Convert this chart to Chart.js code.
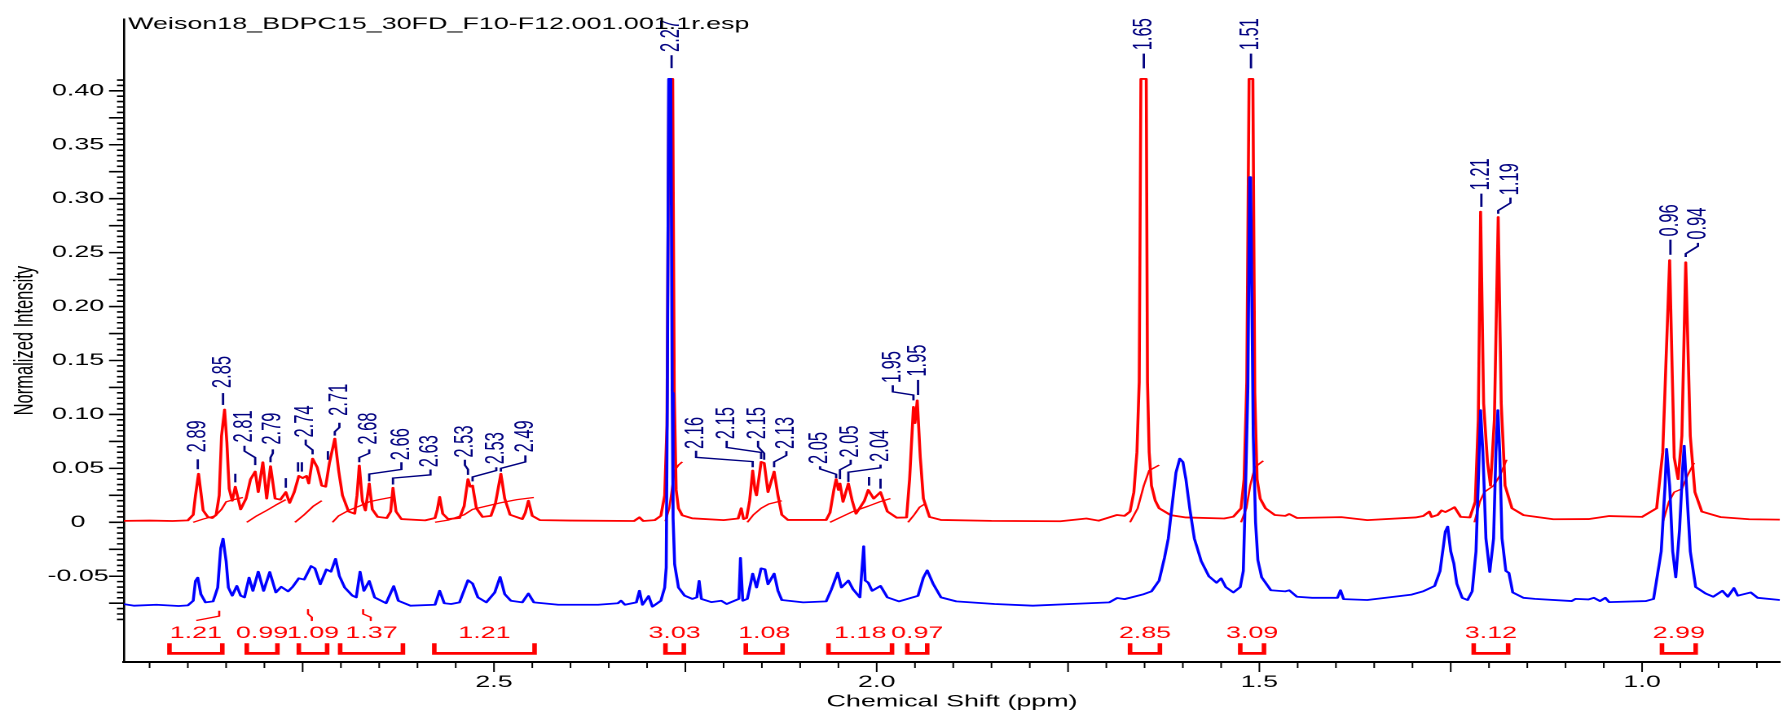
<!DOCTYPE html>
<html>
<head>
<meta charset="utf-8">
<script src="https://cdn.jsdelivr.net/npm/chart.js@4.4.1/dist/chart.umd.min.js"></script>
<style>
    html, body { margin: 0; padding: 0; background: #fff; overflow: hidden; }
    #wrap { width: 1783px; height: 716px; overflow: hidden; }
    /* spectrum is laid out narrow and stretched sideways, like the exported plot */
    #spectrum { display: block; transform: scaleX(1.62980); transform-origin: 0 0; }
</style>
</head>
<body>
<div id="wrap"><canvas id="spectrum" width="1094" height="716"></canvas></div>
<script>
const FONT = '"Liberation Sans", Arial, sans-serif';
const RED = '#ff0000';
const BLUE = '#0000ff';
const NAVY = '#000080';
const FILE_NAME = 'Weison18_BDPC15_30FD_F10-F12.001.001.1r.esp';

// axis labels
const ppmTicks = [2.5, 2.0, 1.5, 1.0];
const intensityTicks = [-0.05, 0, 0.05, 0.10, 0.15, 0.20, 0.25, 0.30, 0.35, 0.40];

// red trace [ppm, normalized intensity]
const redTrace = [
    [2.985, 0.0013], [2.950, 0.0016], [2.920, 0.0012], [2.900, 0.0018], [2.893, 0.007], [2.890, 0.025],
    [2.886, 0.045], [2.883, 0.028], [2.880, 0.011], [2.874, 0.005], [2.868, 0.004], [2.863, 0.007],
    [2.859, 0.025], [2.856, 0.080], [2.852, 0.1045], [2.849, 0.074], [2.846, 0.031], [2.842, 0.020],
    [2.838, 0.033], [2.831, 0.012], [2.824, 0.022], [2.818, 0.040], [2.812, 0.047], [2.808, 0.028],
    [2.802, 0.0557], [2.797, 0.022], [2.792, 0.052], [2.786, 0.022], [2.779, 0.021], [2.772, 0.028],
    [2.767, 0.018], [2.761, 0.028], [2.755, 0.043], [2.750, 0.041], [2.745, 0.043], [2.742, 0.036],
    [2.737, 0.059], [2.731, 0.051], [2.725, 0.034], [2.720, 0.033], [2.715, 0.055], [2.708, 0.0776],
    [2.703, 0.048], [2.698, 0.025], [2.690, 0.010], [2.682, 0.008], [2.679, 0.025], [2.676, 0.0526],
    [2.672, 0.020], [2.668, 0.011], [2.663, 0.036], [2.659, 0.012], [2.652, 0.005], [2.640, 0.004],
    [2.635, 0.010], [2.632, 0.032], [2.628, 0.010], [2.621, 0.003], [2.590, 0.0018], [2.577, 0.004],
    [2.574, 0.012], [2.571, 0.0235], [2.567, 0.008], [2.560, 0.003], [2.545, 0.004], [2.539, 0.015],
    [2.534, 0.040], [2.531, 0.033], [2.528, 0.034], [2.523, 0.013], [2.515, 0.005], [2.504, 0.006],
    [2.498, 0.018], [2.491, 0.045], [2.486, 0.022], [2.479, 0.007], [2.463, 0.003], [2.459, 0.009],
    [2.455, 0.020], [2.450, 0.006], [2.440, 0.002], [2.400, 0.0016], [2.317, 0.0012], [2.310, 0.0046],
    [2.305, 0.0012], [2.290, 0.002], [2.282, 0.006], [2.277, 0.025], [2.274, 0.090], [2.2715, 0.411],
    [2.2665, 0.411], [2.2645, 0.120], [2.262, 0.030], [2.259, 0.013], [2.254, 0.0065], [2.241, 0.0037],
    [2.200, 0.002], [2.181, 0.0035], [2.177, 0.013], [2.174, 0.003], [2.170, 0.004], [2.166, 0.020],
    [2.162, 0.048], [2.159, 0.030], [2.157, 0.025], [2.151, 0.056], [2.147, 0.055], [2.142, 0.028],
    [2.134, 0.047], [2.129, 0.025], [2.124, 0.007], [2.116, 0.0022], [2.066, 0.0022], [2.061, 0.009],
    [2.056, 0.030], [2.053, 0.040], [2.050, 0.030], [2.048, 0.036], [2.044, 0.019], [2.037, 0.036],
    [2.032, 0.020], [2.027, 0.008], [2.016, 0.020], [2.011, 0.030], [2.004, 0.022], [1.995, 0.028],
    [1.986, 0.010], [1.974, 0.0043], [1.961, 0.0045], [1.957, 0.040], [1.952, 0.107], [1.950, 0.092],
    [1.947, 0.113], [1.943, 0.060], [1.939, 0.022], [1.931, 0.005], [1.916, 0.0022], [1.850, 0.0013],
    [1.760, 0.0010], [1.726, 0.0035], [1.710, 0.0015], [1.686, 0.0068], [1.676, 0.006], [1.669, 0.010],
    [1.664, 0.028], [1.660, 0.065], [1.657, 0.130], [1.6548, 0.411], [1.6478, 0.411], [1.6462, 0.130],
    [1.644, 0.065], [1.641, 0.034], [1.636, 0.020], [1.631, 0.013], [1.616, 0.0067], [1.596, 0.0045],
    [1.546, 0.0035], [1.534, 0.0052], [1.524, 0.013], [1.520, 0.040], [1.5165, 0.130], [1.5135, 0.411],
    [1.5085, 0.411], [1.5060, 0.120], [1.503, 0.040], [1.499, 0.022], [1.492, 0.013],
    [1.480, 0.0068], [1.466, 0.006], [1.461, 0.0077], [1.451, 0.004], [1.393, 0.0048], [1.359, 0.002],
    [1.296, 0.0045], [1.286, 0.0058], [1.278, 0.010], [1.275, 0.005], [1.267, 0.0068], [1.262, 0.011],
    [1.257, 0.0095], [1.250, 0.012], [1.245, 0.014], [1.237, 0.005], [1.225, 0.0045], [1.218, 0.019],
    [1.214, 0.095], [1.211, 0.288], [1.207, 0.110], [1.202, 0.056], [1.198, 0.034], [1.193, 0.095],
    [1.188, 0.283], [1.184, 0.110], [1.179, 0.034], [1.170, 0.013], [1.155, 0.0067], [1.116, 0.0028],
    [1.070, 0.003], [1.043, 0.0058], [1.000, 0.005], [0.981, 0.013], [0.973, 0.065], [0.964, 0.243],
    [0.958, 0.060], [0.953, 0.040], [0.948, 0.080], [0.943, 0.241], [0.937, 0.080], [0.931, 0.028],
    [0.922, 0.010], [0.897, 0.0048], [0.860, 0.0028], [0.820, 0.0025]
];

// blue trace [ppm, normalized intensity]
const blueTrace = [
    [2.985, -0.0757], [2.970, -0.0773], [2.941, -0.0764], [2.912, -0.0776], [2.900, -0.0770], [2.893, -0.0727],
    [2.890, -0.0544], [2.887, -0.0513], [2.883, -0.0666], [2.877, -0.0742], [2.867, -0.0733], [2.861, -0.0605],
    [2.857, -0.0238], [2.854, -0.0152], [2.850, -0.0360], [2.847, -0.0605], [2.842, -0.0680], [2.836, -0.0590],
    [2.831, -0.0680], [2.826, -0.0696], [2.820, -0.0513], [2.815, -0.0635], [2.808, -0.0458], [2.801, -0.0635],
    [2.793, -0.0461], [2.785, -0.0650], [2.778, -0.0598], [2.769, -0.0640], [2.763, -0.0598], [2.755, -0.0519],
    [2.748, -0.0531], [2.739, -0.0406], [2.734, -0.0427], [2.727, -0.0574], [2.719, -0.0437], [2.713, -0.0458],
    [2.707, -0.0339], [2.702, -0.0498], [2.695, -0.0605], [2.685, -0.0680], [2.680, -0.0696], [2.675, -0.0458],
    [2.670, -0.0635], [2.663, -0.0544], [2.656, -0.0696], [2.641, -0.0750], [2.631, -0.0592], [2.625, -0.0727],
    [2.609, -0.0773], [2.577, -0.0764], [2.571, -0.0635], [2.565, -0.0750], [2.556, -0.0757], [2.545, -0.0742],
    [2.534, -0.0537], [2.528, -0.0568], [2.521, -0.0696], [2.510, -0.0742], [2.499, -0.0650], [2.492, -0.0507],
    [2.486, -0.0666], [2.478, -0.0727], [2.463, -0.0742], [2.455, -0.0660], [2.448, -0.0742], [2.416, -0.0764],
    [2.364, -0.0764], [2.338, -0.0750], [2.334, -0.0727], [2.329, -0.0764], [2.314, -0.0742], [2.310, -0.0635],
    [2.306, -0.0764], [2.298, -0.0684], [2.293, -0.0782], [2.282, -0.0727], [2.277, -0.0605], [2.275, -0.0420],
    [2.2735, 0.120], [2.2718, 0.411], [2.2690, 0.411], [2.2672, 0.120], [2.266, 0.004], [2.264, -0.039],
    [2.259, -0.0604], [2.251, -0.068], [2.241, -0.071], [2.235, -0.0696], [2.232, -0.0543], [2.229, -0.071],
    [2.216, -0.074], [2.203, -0.0727], [2.196, -0.0757], [2.180, -0.071], [2.178, -0.033], [2.175, -0.0727],
    [2.169, -0.071], [2.162, -0.0476], [2.157, -0.0604], [2.151, -0.0427], [2.146, -0.0436], [2.142, -0.0574],
    [2.134, -0.0476], [2.129, -0.0635], [2.124, -0.072], [2.096, -0.0742], [2.066, -0.0733], [2.059, -0.062],
    [2.051, -0.0467], [2.046, -0.0604], [2.037, -0.054], [2.031, -0.062], [2.022, -0.0696], [2.017, -0.0222],
    [2.015, -0.054], [2.011, -0.056], [2.006, -0.0635], [1.995, -0.059], [1.986, -0.0696], [1.971, -0.0733],
    [1.946, -0.0681], [1.939, -0.0513], [1.934, -0.0446], [1.926, -0.0574], [1.916, -0.0696], [1.896, -0.0733],
    [1.846, -0.0757], [1.796, -0.0773], [1.746, -0.0757], [1.696, -0.0742], [1.686, -0.0702], [1.676, -0.0712],
    [1.651, -0.0666], [1.641, -0.064], [1.631, -0.054], [1.624, -0.033], [1.619, -0.015], [1.614, 0.016],
    [1.609, 0.046], [1.604, 0.059], [1.600, 0.056], [1.596, 0.040], [1.591, 0.013], [1.585, -0.015],
    [1.576, -0.036], [1.566, -0.050], [1.556, -0.056], [1.550, -0.052], [1.544, -0.060], [1.534, -0.065],
    [1.525, -0.060], [1.521, -0.045], [1.518, 0.034], [1.515, 0.126],
    [1.5128, 0.320], [1.5115, 0.320], [1.508, 0.080], [1.505, 0.000], [1.502, -0.035], [1.497, -0.051], [1.485, -0.063],
    [1.466, -0.064], [1.461, -0.063], [1.451, -0.069], [1.431, -0.070], [1.398, -0.070], [1.394, -0.063],
    [1.390, -0.0712], [1.359, -0.072], [1.301, -0.067], [1.286, -0.064], [1.271, -0.059], [1.264, -0.0452],
    [1.257, -0.0085], [1.254, -0.004], [1.250, -0.027], [1.246, -0.038], [1.242, -0.057], [1.235, -0.070],
    [1.228, -0.072], [1.222, -0.064], [1.217, -0.027], [1.213, 0.059], [1.211, 0.104], [1.208, 0.065],
    [1.204, -0.015], [1.199, -0.046], [1.194, -0.015], [1.191, 0.065], [1.1884, 0.104], [1.186, 0.065],
    [1.183, -0.015], [1.178, -0.045], [1.174, -0.047], [1.169, -0.065], [1.155, -0.070], [1.140, -0.071],
    [1.092, -0.073], [1.087, -0.071], [1.070, -0.0715], [1.063, -0.070], [1.055, -0.073], [1.048, -0.070],
    [1.043, -0.074], [0.995, -0.073], [0.985, -0.071], [0.975, -0.027], [0.970, 0.034], [0.968, 0.068],
    [0.964, 0.034], [0.960, -0.027], [0.956, -0.051], [0.951, -0.0063], [0.947, 0.050], [0.945, 0.071],
    [0.942, 0.034], [0.937, -0.027], [0.930, -0.060], [0.917, -0.066], [0.907, -0.069], [0.895, -0.0635],
    [0.888, -0.069], [0.880, -0.061], [0.875, -0.068], [0.858, -0.065], [0.849, -0.070], [0.820, -0.072]
];

// integral curves over the red trace
const integralCurves = [
    [[2.893, 0.000], [2.880, 0.003], [2.864, 0.006], [2.856, 0.012], [2.850, 0.019], [2.840, 0.021], [2.828, 0.023]],
    [[2.823, 0.000], [2.810, 0.006], [2.797, 0.011], [2.785, 0.016], [2.772, 0.021]],
    [[2.760, 0.000], [2.748, 0.007], [2.736, 0.015], [2.725, 0.020]],
    [[2.711, 0.000], [2.703, 0.006], [2.690, 0.011], [2.676, 0.015], [2.663, 0.019], [2.650, 0.021], [2.632, 0.0235]],
    [[2.577, 0.000], [2.560, 0.002], [2.539, 0.007], [2.528, 0.012], [2.510, 0.015], [2.492, 0.018], [2.470, 0.021], [2.448, 0.023]],
    [[2.276, 0.001], [2.271, 0.013], [2.267, 0.034], [2.264, 0.048], [2.259, 0.053], [2.254, 0.056]],
    [[2.169, 0.000], [2.161, 0.007], [2.151, 0.013], [2.141, 0.017], [2.124, 0.020]],
    [[2.061, 0.000], [2.046, 0.005], [2.031, 0.010], [2.011, 0.015], [1.996, 0.019], [1.982, 0.022]],
    [[1.959, 0.000], [1.951, 0.007], [1.944, 0.014], [1.937, 0.017]],
    [[1.669, 0.000], [1.659, 0.013], [1.651, 0.034], [1.644, 0.048], [1.631, 0.053]],
    [[1.524, 0.000], [1.517, 0.013], [1.512, 0.034], [1.506, 0.051], [1.495, 0.057]],
    [[1.219, 0.000], [1.212, 0.019], [1.206, 0.028], [1.194, 0.034], [1.186, 0.043], [1.177, 0.058]],
    [[0.973, 0.000], [0.965, 0.019], [0.958, 0.028], [0.948, 0.031], [0.941, 0.043], [0.932, 0.055]]
];
const integralTails = [
    [[2.889, -0.091], [2.859, -0.087], [2.859, -0.082]],
    [[2.743, -0.081], [2.743, -0.085], [2.738, -0.088], [2.738, -0.091]],
    [[2.671, -0.081], [2.671, -0.085], [2.661, -0.088], [2.661, -0.091]]
];

// integration ranges and their values
const integralRanges = [
    [2.924, 2.855], [2.823, 2.783], [2.755, 2.718], [2.701, 2.619], [2.578, 2.447], [2.276, 2.252],
    [2.171, 2.123], [2.063, 1.980], [1.960, 1.934], [1.669, 1.630], [1.525, 1.494], [1.220, 1.175], [0.974, 0.930]
];
const integralValues = [1.21, 0.99, 1.09, 1.37, 1.21, 3.03, 1.08, 1.18, 0.97, 2.85, 3.09, 3.12, 2.99];

// picked peaks
const peakShifts = [2.89, 2.85, 2.81, 2.79, 2.74, 2.71, 2.68, 2.66, 2.63, 2.53, 2.53, 2.49, 2.27, 2.16,
    2.15, 2.15, 2.13, 2.05, 2.05, 2.04, 1.95, 1.95, 1.65, 1.51, 1.21, 1.19, 0.96, 0.94];

// label placement: first point is the foot of the text, the rest is the leader down to the peak
const peakLeaders = [
    [[2.887, 0.0648], [2.887, 0.0584], [2.887, 0.0492]],
    [[2.854, 0.1244], [2.854, 0.1198], [2.854, 0.1088]],
    [[2.826, 0.074], [2.826, 0.071], [2.826, 0.066], [2.812, 0.060], [2.812, 0.053]],
    [[2.789, 0.072], [2.789, 0.0676], [2.789, 0.064], [2.792, 0.060], [2.792, 0.0557]],
    [[2.746, 0.0786], [2.746, 0.0767], [2.746, 0.072], [2.737, 0.067], [2.737, 0.063]],
    [[2.702, 0.0987], [2.702, 0.0923], [2.702, 0.088], [2.708, 0.084], [2.708, 0.0804]],
    [[2.663, 0.072], [2.663, 0.0676], [2.663, 0.064], [2.676, 0.060], [2.676, 0.0557]],
    [[2.621, 0.0575], [2.621, 0.0557], [2.621, 0.049], [2.663, 0.0447], [2.663, 0.038]],
    [[2.583, 0.051], [2.583, 0.049], [2.583, 0.044], [2.632, 0.041], [2.632, 0.035]],
    [[2.538, 0.060], [2.538, 0.058], [2.538, 0.053], [2.534, 0.049], [2.534, 0.044]],
    [[2.497, 0.0538], [2.497, 0.051], [2.497, 0.048], [2.528, 0.042], [2.528, 0.038]],
    [[2.459, 0.0648], [2.459, 0.062], [2.459, 0.056], [2.491, 0.050], [2.491, 0.047]],
    [[2.268, 0.436], [2.268, 0.433], [2.268, 0.421]],
    [[2.236, 0.0679], [2.236, 0.0663], [2.236, 0.0602], [2.162, 0.0563], [2.162, 0.051]],
    [[2.196, 0.077], [2.196, 0.0755], [2.196, 0.0694], [2.151, 0.0648], [2.151, 0.0587]],
    [[2.155, 0.077], [2.155, 0.0755], [2.155, 0.070], [2.147, 0.064], [2.147, 0.058]],
    [[2.118, 0.0679], [2.118, 0.066], [2.118, 0.062], [2.134, 0.056], [2.134, 0.051]],
    [[2.074, 0.054], [2.074, 0.052], [2.074, 0.0495], [2.053, 0.0445], [2.053, 0.041]],
    [[2.034, 0.060], [2.034, 0.058], [2.034, 0.054], [2.048, 0.0487], [2.048, 0.040]],
    [[1.995, 0.056], [1.995, 0.0535], [1.995, 0.0505], [2.037, 0.0465], [2.037, 0.0375]],
    [[1.979, 0.129], [1.979, 0.127], [1.979, 0.121], [1.952, 0.118], [1.952, 0.113]],
    [[1.946, 0.135], [1.946, 0.132], [1.946, 0.118]],
    [[1.651, 0.4376], [1.651, 0.4345], [1.651, 0.4208]],
    [[1.511, 0.4376], [1.511, 0.4345], [1.511, 0.4208]],
    [[1.210, 0.3077], [1.210, 0.3047], [1.210, 0.2924]],
    [[1.172, 0.3031], [1.172, 0.301], [1.172, 0.296], [1.188, 0.289], [1.188, 0.286]],
    [[0.963, 0.265], [0.963, 0.262], [0.963, 0.248]],
    [[0.927, 0.262], [0.927, 0.259], [0.927, 0.256], [0.943, 0.249], [0.943, 0.246]]
];
// peaks marked without a number: [ppm, top, bottom]
const peakMarks = [
    [2.838, 0.045, 0.037], [2.772, 0.041, 0.032], [2.756, 0.0557, 0.047], [2.751, 0.0557, 0.047],
    [2.717, 0.066, 0.058], [2.010, 0.042, 0.034], [1.995, 0.0404, 0.0312]
];

// vertical placement of the integral brackets, in intensity units
const BRACKET_TEXT = -0.1032;
const BRACKET_TOP = -0.1121;
const BRACKET_BAR = -0.1215;

const toPoints = arr => arr.map(([x, y]) => ({ x, y }));

// tick marks: long every 0.025 / 0.25, short every 0.005 / 0.05
const axisTicks = {
    id: 'axisTicks',
    afterDraw(chart) {
        const { ctx, chartArea: area, scales: { x, y } } = chart;
        ctx.save();
        ctx.strokeStyle = '#000';
        ctx.lineWidth = 1.6;
        ctx.beginPath();
        for (let i = -18; i <= 82; i++) {
            const py = y.getPixelForValue(i * 0.005);
            const len = i % 5 === 0 ? 9.2 : 4.3;
            ctx.moveTo(area.left - len, py);
            ctx.lineTo(area.left, py);
        }
        ctx.stroke();
        ctx.lineWidth = 1.0;
        ctx.beginPath();
        for (let i = 17; i <= 59; i++) {
            const px = x.getPixelForValue(i * 0.05);
            const len = i % 5 === 0 ? 10 : 6;
            ctx.moveTo(px, area.bottom);
            ctx.lineTo(px, area.bottom + len);
        }
        ctx.stroke();

        ctx.fillStyle = '#000';
        ctx.font = '16.5px ' + FONT;
        ctx.textAlign = 'left';
        ctx.textBaseline = 'alphabetic';
        ctx.fillText(FILE_NAME, area.left + 2.5, 29);
        ctx.restore();
    }
};

// peak labels, leaders and integral brackets
const annotations = {
    id: 'annotations',
    afterDatasetsDraw(chart) {
        const { ctx, scales: { x, y } } = chart;
        const px = v => x.getPixelForValue(v);
        const py = v => y.getPixelForValue(v);
        ctx.save();
        ctx.font = '16.5px ' + FONT;

        ctx.strokeStyle = NAVY;
        ctx.fillStyle = NAVY;
        ctx.lineWidth = 1.4;
        peakLeaders.forEach((path, i) => {
            ctx.beginPath();
            path.slice(1).forEach(([p, v], k) => {
                if (k === 0) ctx.moveTo(px(p), py(v));
                else ctx.lineTo(px(p), py(v));
            });
            ctx.stroke();
            const [p0, v0] = path[0];
            ctx.save();
            ctx.translate(px(p0), py(v0));
            ctx.rotate(-Math.PI / 2);
            ctx.textAlign = 'left';
            ctx.textBaseline = 'middle';
            ctx.fillText(peakShifts[i].toFixed(2), 0, 0);
            ctx.restore();
        });
        ctx.beginPath();
        peakMarks.forEach(([p, top, bottom]) => {
            ctx.moveTo(px(p), py(top));
            ctx.lineTo(px(p), py(bottom));
        });
        ctx.stroke();

        ctx.strokeStyle = RED;
        ctx.fillStyle = RED;
        ctx.lineWidth = 2.8;
        ctx.lineJoin = 'miter';
        ctx.textAlign = 'center';
        ctx.textBaseline = 'middle';
        integralRanges.forEach(([a, b], i) => {
            const x1 = px(a), x2 = px(b);
            ctx.beginPath();
            ctx.moveTo(x1, py(BRACKET_TOP));
            ctx.lineTo(x1, py(BRACKET_BAR));
            ctx.lineTo(x2, py(BRACKET_BAR));
            ctx.lineTo(x2, py(BRACKET_TOP));
            ctx.stroke();
            ctx.fillText(integralValues[i].toFixed(2), (x1 + x2) / 2, py(BRACKET_TEXT));
        });
        ctx.restore();
    }
};

const datasets = [
    { data: toPoints(blueTrace), borderColor: BLUE, borderWidth: 1.8 },
    { data: toPoints(redTrace), borderColor: RED, borderWidth: 1.8 },
    ...integralCurves.concat(integralTails).map(c => ({ data: toPoints(c), borderColor: RED, borderWidth: 1.3 }))
];

Chart.defaults.font.family = FONT;

new Chart(document.getElementById('spectrum'), {
    type: 'line',
    data: { datasets },
    options: {
        responsive: false,
        animation: false,
        devicePixelRatio: 2,
        layout: { padding: { top: 12, right: 1.8, left: 0, bottom: 0 } },
        elements: {
            point: { radius: 0 },
            line: { tension: 0, fill: false, borderJoinStyle: 'round' }
        },
        plugins: {
            legend: { display: false },
            tooltip: { enabled: false }
        },
        scales: {
            x: {
                type: 'linear',
                reverse: true,
                min: 0.8197,
                max: 2.9834,
                afterFit: s => { s.height = 54; },
                afterBuildTicks: s => { s.ticks = ppmTicks.map(v => ({ value: v })); },
                grid: { display: false, drawTicks: false },
                border: { display: true, color: '#000', width: 2 },
                ticks: {
                    padding: 10.6,
                    color: '#000',
                    autoSkip: false,
                    maxRotation: 0,
                    font: { family: FONT, size: 16.5 },
                    callback: v => v.toFixed(1)
                },
                title: {
                    display: true,
                    text: 'Chemical Shift (ppm)',
                    color: '#000',
                    font: { family: FONT, size: 16.5 },
                    padding: { top: 0, bottom: 4 }
                }
            },
            y: {
                type: 'linear',
                min: -0.1295,
                max: 0.4663,
                afterFit: s => { s.width = 76.08; },
                afterBuildTicks: s => { s.ticks = intensityTicks.map(v => ({ value: v })); },
                grid: { display: false, drawTicks: false },
                border: { display: true, color: '#000', width: 1.3 },
                ticks: {
                    padding: 9.4,
                    crossAlign: 'center',
                    color: '#000',
                    autoSkip: false,
                    font: { family: FONT, size: 16.5 },
                    callback: v => Math.abs(v) < 1e-9 ? '0' : v.toFixed(2)
                },
                title: {
                    display: true,
                    text: 'Normalized Intensity',
                    color: '#000',
                    font: { family: FONT, size: 16.5 },
                    padding: { top: 5.4, bottom: 0 }
                }
            }
        }
    },
    plugins: [annotations, axisTicks]
});
</script>
</body>
</html>
